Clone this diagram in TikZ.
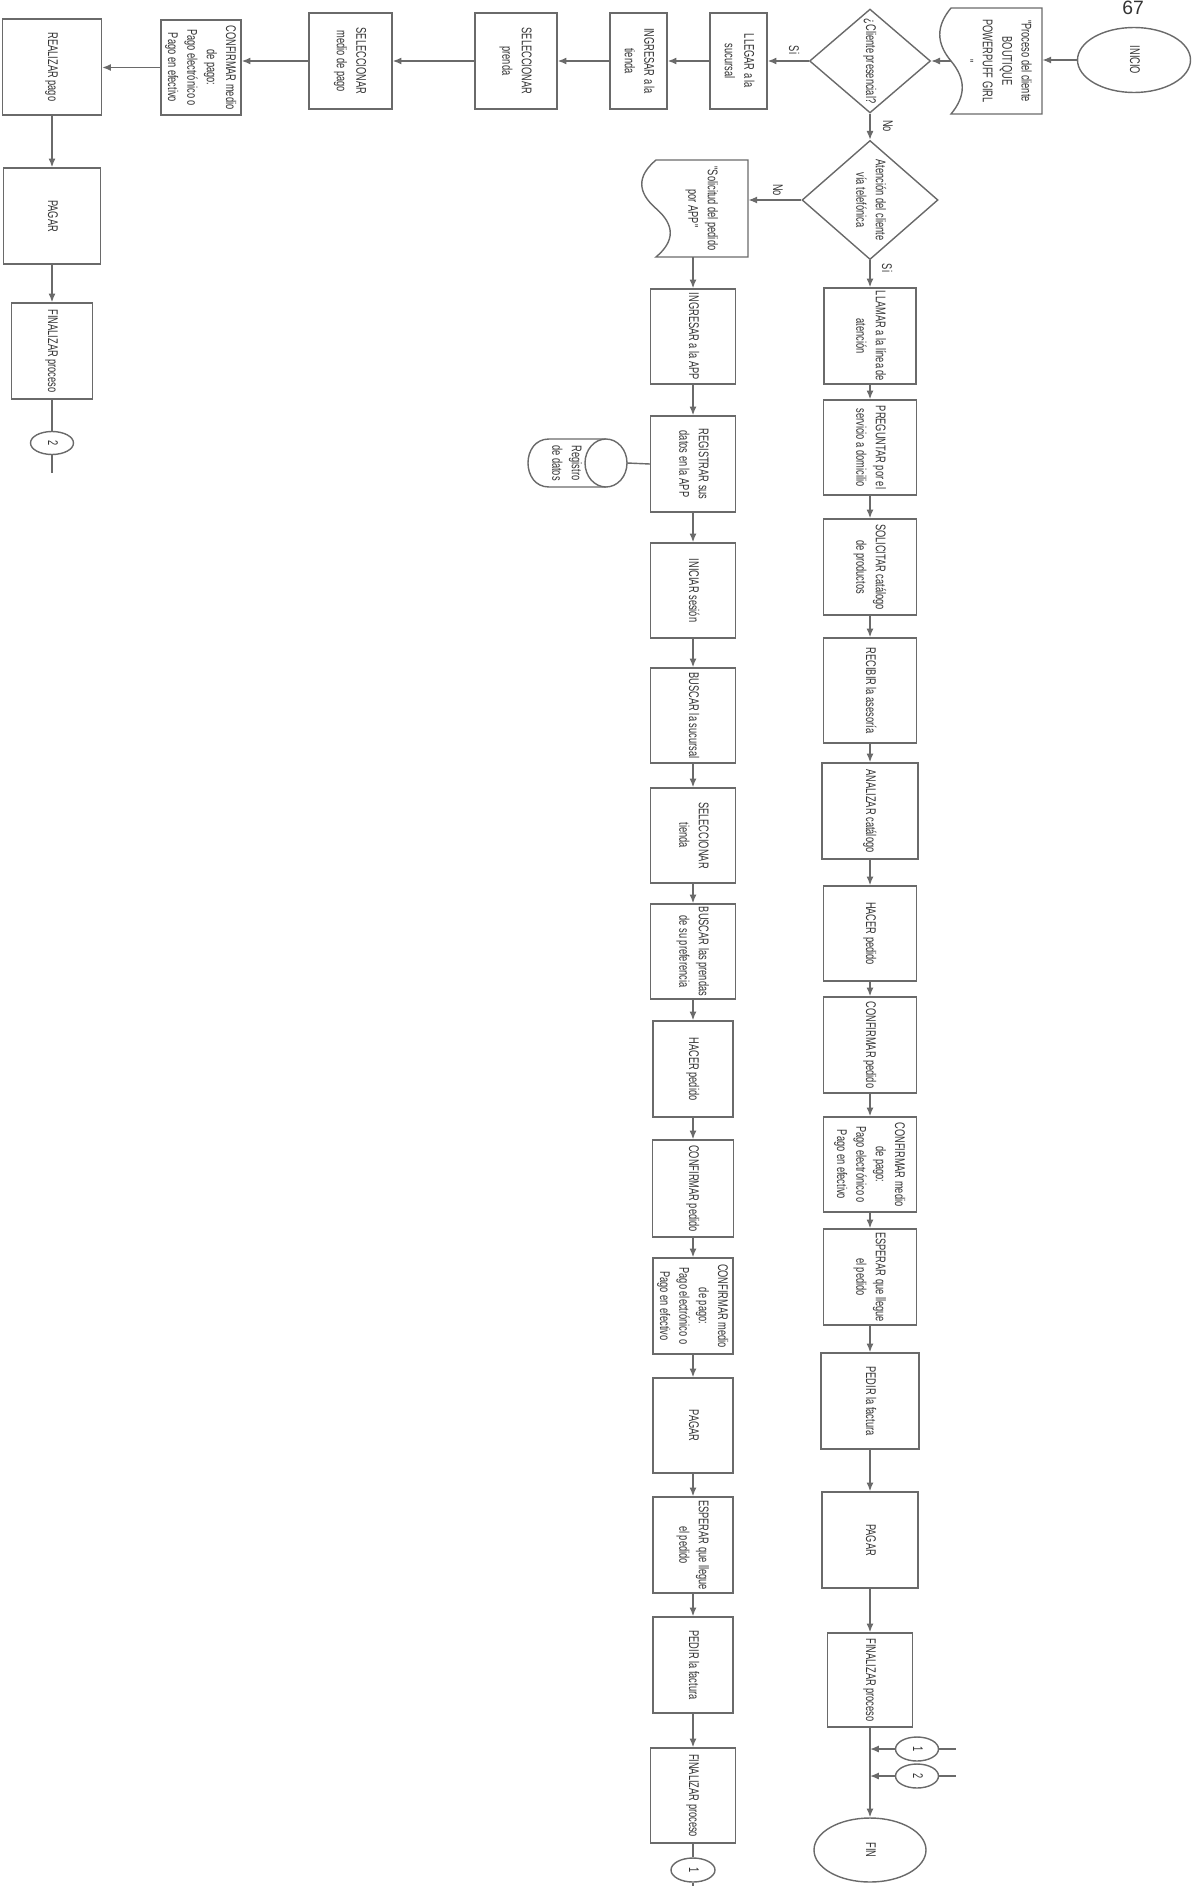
\documentclass[tikz,border=0pt]{standalone}
\usepackage{fontspec}
\usepackage{graphicx}
\setmainfont{Liberation Sans}
\newfontfamily\cf[FakeStretch=0.66]{Liberation Sans}
\usetikzlibrary{shapes.geometric,arrows.meta}
\definecolor{linec}{HTML}{6A6A6A}
\definecolor{txtc}{HTML}{333333}
\newcommand\rt[1]{\rotatebox{-90}{\begin{tabular}{@{}c@{}}#1\end{tabular}}}
\newcommand\bx[6]{\node[box,minimum width=#4*0.02cm,minimum height=#5*0.02cm] (#1) at (#2,#3) {\rt{#6}};}
\tikzset{
  base/.style={text=txtc, font=\cf\fontsize{8}{11}\selectfont, inner sep=0pt},
  box/.style={base, draw=linec, line width=0.8pt, fill=white, rectangle},
  dia/.style={base, draw=linec, line width=0.8pt, fill=white, diamond},
  term/.style={base, draw=linec, line width=0.8pt, fill=white, ellipse},
  arr/.style={draw=linec, line width=0.8pt, -{Latex[length=5pt,width=4pt]}},
  ln/.style={draw=linec, line width=0.8pt},
  lab/.style={base, inner sep=1pt},
  shp/.style={draw=linec, line width=0.8pt},
}
\begin{document}
\begin{tikzpicture}[x=0.02cm, y=-0.02cm]
\useasboundingbox (0,0) rectangle (1203,1886);

% page number
\node[font=\fontsize{11}{11}\selectfont, text=txtc, anchor=north, inner sep=0pt] (pgnum) at (1133,1) {67};

% ---------- top row ----------
\node[term, minimum width=113*0.02cm, minimum height=65*0.02cm] (ini) at (1134,60) {\rt{INICIO}};

\node[base, minimum width=91*0.02cm, minimum height=106*0.02cm] (doc1) at (996.5,61) {\rt{"Proceso del cliente\\BOUTIQUE\\POWERPUFF GIRL\\"}};
\draw[shp] (1042,8) -- (951,8) .. controls (936,26) and (936,43) .. (951,61) .. controls (966,79) and (966,96) .. (951,114) -- (1042,114) -- cycle;

\node[dia, minimum width=121*0.02cm, minimum height=102*0.02cm] (d1) at (870,61) {\rt{¿Cliente presencial?}};

\bx{lleg}{738.5}{61}{57}{96}{LLEGAR a la\\sucursal}
\bx{ingt}{638.5}{61}{57}{96}{INGRESAR a la\\tienda}
\bx{selp}{516}{61}{82}{96}{SELECCIONAR\\prenda}
\bx{selm}{350.5}{61}{83}{96}{SELECCIONAR\\medio de pago}
\bx{cmp0}{201}{67.5}{80}{95}{CONFIRMAR medio\\de pago:\\Pago electrónico o\\Pago en efectivo}
\bx{real}{52}{67}{99}{96}{REALIZAR pago}
\bx{pag0}{52}{216}{97}{96}{PAGAR}
\bx{fin0}{52}{351}{81}{96}{FINALIZAR proceso}
\node[term, minimum width=43*0.02cm, minimum height=23*0.02cm] (k2a) at (52,443) {\rt{2}};
\coordinate (e2a) at (52,473);

\node[lab] (lsi1) at (793,50) {\rt{Si}};
\node[lab] (lno1) at (887,126) {\rt{No}};

% ---------- second decision ----------
\node[dia, minimum width=136*0.02cm, minimum height=110*0.02cm] (d2) at (870,200) {\rt{Atención del cliente\\vía telefónica}};
\node[lab] (lno2) at (777,190) {\rt{No}};
\node[lab] (lsi2) at (886,268) {\rt{Si}};

\node[base, minimum width=92*0.02cm, minimum height=97*0.02cm] (doc2) at (702,208.5) {\rt{"Solicitud del pedido\\por APP"}};
\draw[shp] (748,160) -- (656,160) .. controls (637,176) and (637,192) .. (656,208.5) .. controls (675,225) and (675,241) .. (656,257) -- (748,257) -- cycle;

% ---------- right column (telephone) ----------
\bx{llam}{870}{336}{92}{96}{LLAMAR a la línea de\\atención}
\bx{preg}{870}{447.5}{93}{95}{PREGUNTAR por el\\servicio a domicilio}
\bx{soli}{870}{567}{93}{96}{SOLICITAR catálogo\\de productos}
\bx{reci}{870}{690.5}{93}{105}{RECIBIR la asesoría}
\bx{anal}{870}{811}{96}{96}{ANALIZAR catálogo}
\bx{hacR}{870}{933.5}{93}{95}{HACER pedido}
\bx{cpR}{870}{1045}{93}{96}{CONFIRMAR pedido}
\bx{cmR}{870}{1164.5}{93}{95}{CONFIRMAR medio\\de pago:\\Pago electrónico o\\Pago en efectivo}
\bx{espR}{870}{1277}{93}{96}{ESPERAR que llegue\\el pedido}
\bx{pedR}{870}{1401}{98}{96}{PEDIR la factura}
\bx{pagR}{870}{1540}{96}{96}{PAGAR}
\bx{finR}{870}{1680}{85}{94}{FINALIZAR proceso}
\node[term, minimum width=43*0.02cm, minimum height=24*0.02cm] (k1) at (917,1749) {\rt{1}};
\node[term, minimum width=43*0.02cm, minimum height=24*0.02cm] (k2) at (917,1776) {\rt{2}};
\node[term, minimum width=112*0.02cm, minimum height=64*0.02cm] (fin) at (870,1850) {\rt{FIN}};

% ---------- middle column (APP) ----------
\bx{ingA}{693}{336.5}{85}{95}{INGRESAR a la APP}
\bx{regA}{693}{464}{85}{96}{REGISTRAR sus\\datos en la APP}
\bx{iniA}{693}{590.5}{85}{95}{INICIAR sesión}
\bx{busA}{693}{715.5}{85}{95}{BUSCAR la sucursal}
\bx{selA}{693}{835.5}{85}{95}{SELECCIONAR\\tienda}
\bx{bprA}{693}{951.5}{85}{95}{BUSCAR las prendas\\de su preferencia}
\bx{hacA}{693}{1069}{80}{96}{HACER pedido}
\bx{cpA}{693}{1188.5}{81}{97}{CONFIRMAR pedido}
\bx{cmA}{693}{1306}{80}{96}{CONFIRMAR medio\\de pago:\\Pago electrónico o\\Pago en efectivo}
\bx{pgA}{693}{1425.5}{80}{95}{PAGAR}
\bx{esA}{693}{1545}{80}{96}{ESPERAR que llegue\\el pedido}
\bx{pdA}{693}{1665}{80}{96}{PEDIR la factura}
\bx{fnA}{693}{1795.5}{85}{95}{FINALIZAR proceso}
\node[term, minimum width=44*0.02cm, minimum height=24*0.02cm] (k1a) at (693,1870) {\rt{1}};
\coordinate (e1a) at (693,1890);

% cylinder "Registro de datos" (horizontal, full cap on the right)
\draw[shp, fill=white] (606,439) -- (549,439) .. controls (521,439) and (521,487) .. (549,487) -- (606,487);
\draw[shp, fill=white] (606,463) ellipse [x radius=0.42cm, y radius=0.48cm];
\node[base, minimum width=78*0.02cm, minimum height=48*0.02cm] (cyl) at (566,463) {\rt{Registro\\de datos}};
\coordinate (cyle) at (627,463);

% ---------- connectors ----------
\draw[arr] (ini.west) -- (ini.west -| doc1.east);
\draw[arr] (doc1.west) -- (d1.east);
\draw[arr] (d1.west) -- (lleg.east);
\draw[arr] (lleg.west) -- (ingt.east);
\draw[arr] (ingt.west) -- (selp.east);
\draw[arr] (selp.west) -- (selm.east);
\draw[arr] (selm.west) -- (selm.west -| cmp0.east);
\draw[arr] (cmp0.west) -- (cmp0.west -| real.east);
\draw[arr] (real.south) -- (pag0.north);
\draw[arr] (pag0.south) -- (fin0.north);
\draw[ln] (fin0.south) -- (k2a.north);
\draw[ln] (k2a.south) -- (e2a);

\draw[arr] (d1.south) -- (d2.north);
\draw[arr] (d2.west) -- (d2.west -| doc2.east);
\draw[arr] (d2.south) -- (llam.north);
\draw[arr] (doc2.south -| ingA.north) -- (ingA.north);

\foreach \a/\b in {llam/preg, preg/soli, soli/reci, reci/anal, anal/hacR, hacR/cpR, cpR/cmR, cmR/espR, espR/pedR, pedR/pagR, pagR/finR,
  ingA/regA, regA/iniA, iniA/busA, busA/selA, selA/bprA, bprA/hacA, hacA/cpA, cpA/cmA, cmA/pgA, pgA/esA, esA/pdA, pdA/fnA}
  \draw[arr] (\a.south) -- (\b.north);

\draw[arr] (finR.south) -- (fin.north);
\draw[arr] (k1.west) -- (k1.west -| finR.south);
\draw[arr] (k2.west) -- (k2.west -| finR.south);
\draw[ln] (k1.east) -- ++(17,0);
\draw[ln] (k2.east) -- ++(17,0);

\draw[ln] (regA.west) -- (cyle);
\draw[ln] (fnA.south) -- (k1a.north);
\draw[ln] (k1a.south) -- (e1a);
\end{tikzpicture}
\end{document}
